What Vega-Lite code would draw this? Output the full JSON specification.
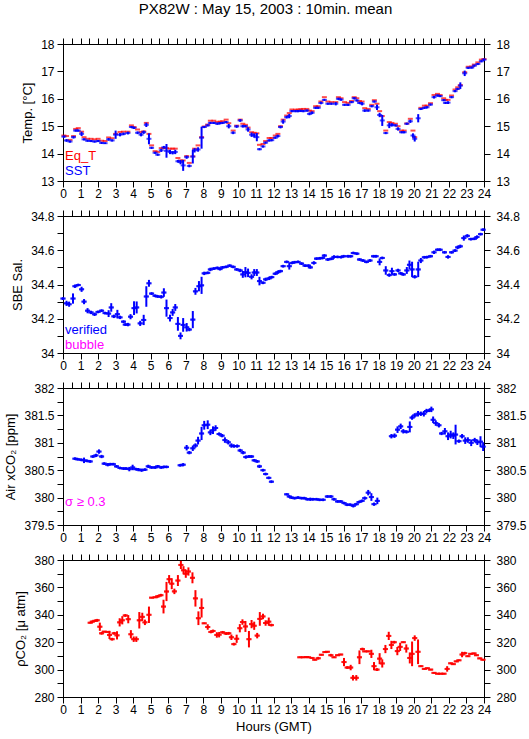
{
"$schema": "https://vega.github.io/schema/vega-lite/v6.json",
"background": "white",
"padding": {"left": 4, "top": 2, "right": 2, "bottom": 2},
"title": {"text": "PX82W : May 15, 2003 : 10min. mean", "fontSize": 15, "font": "Liberation Sans", "fontWeight": "normal", "color": "black", "anchor": "middle", "offset": 20},
"spacing": 9,
"config": {
  "font": "Liberation Sans",
  "view": {"stroke": "black", "strokeWidth": 1},
  "axis": {"domainColor": "black", "tickColor": "black", "labelColor": "black", "titleColor": "black", "labelFont": "Liberation Sans", "labelFontSize": 12, "titleFont": "Liberation Sans", "titleFontSize": 13, "titleFontWeight": "normal", "tickSize": 6, "grid": false, "labelOverlap": false, "labelFlush": false, "labelBound": false, "domainWidth": 1, "tickWidth": 1, "format": "~g"}
},
"datasets": {
"t": [
{"h":0.05,"s":14.62,"e":0.04,"q":14.66},{"h":0.2,"s":14.48,"e":0.05,"q":14.64},{"h":0.4,"s":14.44,"e":0.04,"q":14.5},{"h":0.6,"s":14.6,"e":0.05,"q":14.64},{"h":0.72,"s":14.84,"e":0.04,"q":14.9},{"h":0.87,"s":14.84,"e":0.04,"q":14.93},{"h":1.06,"s":14.72,"e":0.08,"q":14.8},{"h":1.2,"s":14.52,"e":0.04,"q":14.6},{"h":1.4,"s":14.47,"e":0.04,"q":14.54},{"h":1.6,"s":14.46,"e":0.04,"q":14.54},{"h":1.8,"s":14.44,"e":0.04,"q":14.52},{"h":2.0,"s":14.46,"e":0.04,"q":14.54},{"h":2.2,"s":14.39,"e":0.04,"q":14.47},{"h":2.4,"s":14.38,"e":0.03,"q":14.46},{"h":2.6,"s":14.52,"e":0.05,"q":14.59},{"h":2.8,"s":14.48,"e":0.04,"q":14.56},{"h":3.0,"s":14.69,"e":0.15,"q":14.72},{"h":3.25,"s":14.69,"e":0.06,"q":14.79},{"h":3.45,"s":14.72,"e":0.05,"q":14.8},{"h":3.7,"s":14.75,"e":0.05,"q":14.8},{"h":3.9,"s":14.97,"e":0.04,"q":15.03},{"h":4.05,"s":14.94,"e":0.04,"q":14.97},{"h":4.25,"s":14.76,"e":0.05,"q":14.88},{"h":4.45,"s":14.69,"e":0.06,"q":14.79},{"h":4.6,"s":14.78,"e":0.06,"q":14.81},{"h":4.75,"s":15.05,"e":0.08,"q":15.12},{"h":4.9,"s":14.54,"e":0.2,"q":14.72},{"h":5.05,"s":14.21,"e":0.04,"q":14.3},{"h":5.25,"s":14.03,"e":0.04,"q":14.09},{"h":5.4,"s":13.96,"e":0.04,"q":14.06},{"h":5.6,"s":14.12,"e":0.06,"q":14.2},{"h":5.75,"s":14.23,"e":0.05,"q":14.2},{"h":5.9,"s":14.1,"e":0.25,"q":14.2},{"h":6.1,"s":14.06,"e":0.08,"q":14.18},{"h":6.25,"s":14.03,"e":0.06,"q":14.18},{"h":6.4,"s":14.06,"e":0.08,"q":14.18},{"h":6.55,"s":13.72,"e":0.05,"q":13.84},{"h":6.7,"s":13.69,"e":0.08,"q":13.75},{"h":6.85,"s":13.57,"e":0.2,"q":13.75},{"h":7.05,"s":13.87,"e":0.06,"q":13.91},{"h":7.2,"s":13.55,"e":0.05,"q":13.66},{"h":7.4,"s":13.89,"e":0.25,"q":13.9},{"h":7.5,"s":14.12,"e":0.08,"q":14.18},{"h":7.7,"s":14.15,"e":0.08,"q":14.3},{"h":7.9,"s":14.58,"e":0.4,"q":14.6},{"h":8.05,"s":14.97,"e":0.04,"q":14.99},{"h":8.25,"s":15.03,"e":0.04,"q":15.06},{"h":8.4,"s":15.12,"e":0.04,"q":15.2},{"h":8.6,"s":15.12,"e":0.04,"q":15.2},{"h":8.8,"s":15.09,"e":0.04,"q":15.15},{"h":8.95,"s":15.11,"e":0.04,"q":15.17},{"h":9.1,"s":15.12,"e":0.04,"q":15.18},{"h":9.3,"s":15.15,"e":0.04,"q":15.24},{"h":9.45,"s":15.0,"e":0.08,"q":15.11},{"h":9.7,"s":14.76,"e":0.05,"q":14.84},{"h":9.9,"s":14.99,"e":0.05,"q":15.02},{"h":10.1,"s":15.21,"e":0.05,"q":15.24},{"h":10.25,"s":15.0,"e":0.05,"q":15.09},{"h":10.4,"s":15.0,"e":0.04,"q":15.05},{"h":10.55,"s":14.88,"e":0.08,"q":14.95},{"h":10.75,"s":14.69,"e":0.08,"q":14.78},{"h":10.9,"s":14.66,"e":0.08,"q":14.76},{"h":11.05,"s":14.6,"e":0.15,"q":14.74},{"h":11.2,"s":14.16,"e":0.04,"q":14.32},{"h":11.4,"s":14.26,"e":0.04,"q":14.35},{"h":11.55,"s":14.4,"e":0.04,"q":14.46},{"h":11.75,"s":14.48,"e":0.04,"q":14.57},{"h":11.9,"s":14.49,"e":0.04,"q":14.57},{"h":12.1,"s":14.58,"e":0.04,"q":14.66},{"h":12.25,"s":14.64,"e":0.05,"q":14.72},{"h":12.4,"s":14.97,"e":0.05,"q":15.0},{"h":12.55,"s":15.17,"e":0.08,"q":15.24},{"h":12.75,"s":15.33,"e":0.05,"q":15.39},{"h":12.9,"s":15.37,"e":0.08,"q":15.48},{"h":13.05,"s":15.55,"e":0.04,"q":15.61},{"h":13.25,"s":15.55,"e":0.04,"q":15.6},{"h":13.4,"s":15.55,"e":0.04,"q":15.61},{"h":13.55,"s":15.56,"e":0.04,"q":15.62},{"h":13.7,"s":15.55,"e":0.04,"q":15.63},{"h":13.9,"s":15.57,"e":0.04,"q":15.63},{"h":14.05,"s":15.45,"e":0.05,"q":15.57},{"h":14.2,"s":15.49,"e":0.05,"q":15.55},{"h":14.4,"s":15.67,"e":0.04,"q":15.73},{"h":14.55,"s":15.67,"e":0.04,"q":15.73},{"h":14.7,"s":15.85,"e":0.05,"q":15.9},{"h":14.9,"s":15.96,"e":0.04,"q":16.06},{"h":15.1,"s":15.82,"e":0.04,"q":15.9},{"h":15.3,"s":15.82,"e":0.04,"q":15.88},{"h":15.55,"s":15.82,"e":0.06,"q":15.88},{"h":15.7,"s":16.0,"e":0.04,"q":16.06},{"h":15.85,"s":15.97,"e":0.04,"q":16.02},{"h":16.05,"s":15.78,"e":0.04,"q":15.88},{"h":16.25,"s":15.78,"e":0.04,"q":15.85},{"h":16.45,"s":15.88,"e":0.04,"q":15.92},{"h":16.6,"s":16.02,"e":0.04,"q":16.06},{"h":16.75,"s":15.94,"e":0.04,"q":16.02},{"h":16.9,"s":15.85,"e":0.04,"q":15.92},{"h":17.05,"s":15.82,"e":0.06,"q":15.9},{"h":17.2,"s":15.57,"e":0.05,"q":15.66},{"h":17.4,"s":15.57,"e":0.04,"q":15.63},{"h":17.6,"s":15.73,"e":0.04,"q":15.78},{"h":17.75,"s":15.9,"e":0.04,"q":15.95},{"h":17.9,"s":15.69,"e":0.1,"q":15.82},{"h":18.05,"s":15.41,"e":0.08,"q":15.55},{"h":18.2,"s":15.21,"e":0.2,"q":15.37},{"h":18.4,"s":14.75,"e":0.04,"q":14.84},{"h":18.6,"s":15.03,"e":0.1,"q":15.15},{"h":18.75,"s":15.05,"e":0.06,"q":15.12},{"h":18.95,"s":15.03,"e":0.04,"q":15.09},{"h":19.1,"s":14.9,"e":0.06,"q":15.0},{"h":19.3,"s":14.78,"e":0.04,"q":14.84},{"h":19.45,"s":14.78,"e":0.04,"q":14.84},{"h":19.6,"s":15.09,"e":0.04,"q":15.1},{"h":19.8,"s":15.18,"e":0.06,"q":15.27},{"h":19.95,"s":14.66,"e":0.08,"q":14.84},{"h":20.05,"s":14.54,"e":0.1,"q":14.6},{"h":20.25,"s":15.29,"e":0.15,"q":null},{"h":20.4,"s":15.63,"e":0.04,"q":15.67},{"h":20.6,"s":15.67,"e":0.04,"q":15.75},{"h":20.75,"s":15.69,"e":0.04,"q":15.75},{"h":20.95,"s":15.79,"e":0.04,"q":15.84},{"h":21.15,"s":16.06,"e":0.05,"q":16.14},{"h":21.35,"s":16.12,"e":0.04,"q":16.18},{"h":21.5,"s":16.1,"e":0.04,"q":16.14},{"h":21.7,"s":15.95,"e":0.04,"q":16.02},{"h":21.8,"s":15.85,"e":0.04,"q":15.96},{"h":21.95,"s":15.86,"e":0.05,"q":15.96},{"h":22.15,"s":16.06,"e":0.04,"q":16.12},{"h":22.35,"s":16.28,"e":0.04,"q":16.34},{"h":22.5,"s":16.36,"e":0.04,"q":16.42},{"h":22.65,"s":16.48,"e":0.12,"q":16.5},{"h":22.9,"s":16.93,"e":0.1,"q":16.97},{"h":23.1,"s":17.13,"e":0.04,"q":17.17},{"h":23.3,"s":17.14,"e":0.04,"q":17.18},{"h":23.45,"s":17.21,"e":0.04,"q":17.25},{"h":23.65,"s":17.27,"e":0.04,"q":17.33},{"h":23.85,"s":17.37,"e":0.04,"q":17.43},{"h":24.0,"s":17.43,"e":0.04,"q":17.45}
],
"sal": [
{"h":0.0,"v":34.318,"e":0.008},{"h":0.2,"v":34.29,"e":0.015},{"h":0.35,"v":34.285,"e":0.015},{"h":0.57,"v":34.318,"e":0.03},{"h":0.68,"v":34.39,"e":0.01},{"h":0.87,"v":34.397,"e":0.008},{"h":1.06,"v":34.372,"e":0.015},{"h":1.2,"v":34.3,"e":0.015},{"h":1.4,"v":34.247,"e":0.015},{"h":1.6,"v":34.237,"e":0.01},{"h":1.8,"v":34.226,"e":0.01},{"h":2.0,"v":34.24,"e":0.008},{"h":2.2,"v":34.247,"e":0.008},{"h":2.4,"v":34.233,"e":0.008},{"h":2.6,"v":34.23,"e":0.02},{"h":2.75,"v":34.266,"e":0.025},{"h":2.9,"v":34.214,"e":0.01},{"h":3.1,"v":34.227,"e":0.025},{"h":3.25,"v":34.208,"e":0.01},{"h":3.45,"v":34.183,"e":0.008},{"h":3.55,"v":34.166,"e":0.008},{"h":3.7,"v":34.166,"e":0.01},{"h":3.85,"v":34.212,"e":0.015},{"h":4.05,"v":34.262,"e":0.04},{"h":4.2,"v":34.266,"e":0.035},{"h":4.4,"v":34.173,"e":0.015},{"h":4.6,"v":34.193,"e":0.03},{"h":4.75,"v":34.33,"e":0.06},{"h":4.9,"v":34.407,"e":0.02},{"h":5.05,"v":34.347,"e":0.008},{"h":5.25,"v":34.334,"e":0.008},{"h":5.4,"v":34.33,"e":0.008},{"h":5.6,"v":34.328,"e":0.01},{"h":5.75,"v":34.353,"e":0.025},{"h":5.9,"v":34.262,"e":0.05},{"h":6.1,"v":34.204,"e":0.02},{"h":6.25,"v":34.237,"e":0.02},{"h":6.4,"v":34.266,"e":0.02},{"h":6.55,"v":34.17,"e":0.04},{"h":6.7,"v":34.1,"e":0.02},{"h":6.85,"v":34.164,"e":0.04},{"h":7.05,"v":34.15,"e":0.025},{"h":7.2,"v":34.137,"e":0.01},{"h":7.4,"v":34.195,"e":0.05},{"h":7.55,"v":34.36,"e":0.02},{"h":7.75,"v":34.39,"e":0.03},{"h":7.9,"v":34.395,"e":0.05},{"h":8.05,"v":34.465,"e":0.01},{"h":8.25,"v":34.468,"e":0.008},{"h":8.4,"v":34.488,"e":0.01},{"h":8.6,"v":34.493,"e":0.008},{"h":8.8,"v":34.497,"e":0.008},{"h":8.95,"v":34.49,"e":0.008},{"h":9.1,"v":34.5,"e":0.008},{"h":9.3,"v":34.503,"e":0.008},{"h":9.5,"v":34.51,"e":0.008},{"h":9.7,"v":34.503,"e":0.008},{"h":9.9,"v":34.488,"e":0.008},{"h":10.1,"v":34.482,"e":0.01},{"h":10.25,"v":34.459,"e":0.02},{"h":10.4,"v":34.472,"e":0.03},{"h":10.55,"v":34.468,"e":0.025},{"h":10.75,"v":34.445,"e":0.015},{"h":10.9,"v":34.47,"e":0.02},{"h":11.05,"v":34.47,"e":0.02},{"h":11.2,"v":34.42,"e":0.025},{"h":11.4,"v":34.41,"e":0.008},{"h":11.55,"v":34.43,"e":0.01},{"h":11.75,"v":34.436,"e":0.01},{"h":11.9,"v":34.443,"e":0.008},{"h":12.1,"v":34.463,"e":0.008},{"h":12.25,"v":34.472,"e":0.01},{"h":12.4,"v":34.478,"e":0.008},{"h":12.55,"v":34.507,"e":0.008},{"h":12.75,"v":34.532,"e":0.008},{"h":12.9,"v":34.507,"e":0.02},{"h":13.05,"v":34.526,"e":0.008},{"h":13.2,"v":34.53,"e":0.008},{"h":13.4,"v":34.532,"e":0.008},{"h":13.6,"v":34.522,"e":0.008},{"h":13.8,"v":34.51,"e":0.008},{"h":14.0,"v":34.51,"e":0.008},{"h":14.1,"v":34.5,"e":0.008},{"h":14.3,"v":34.526,"e":0.01},{"h":14.45,"v":34.551,"e":0.008},{"h":14.65,"v":34.553,"e":0.008},{"h":14.8,"v":34.555,"e":0.008},{"h":14.9,"v":34.569,"e":0.008},{"h":15.1,"v":34.546,"e":0.008},{"h":15.3,"v":34.55,"e":0.008},{"h":15.45,"v":34.561,"e":0.01},{"h":15.65,"v":34.561,"e":0.008},{"h":15.85,"v":34.56,"e":0.008},{"h":16.0,"v":34.565,"e":0.008},{"h":16.25,"v":34.565,"e":0.008},{"h":16.4,"v":34.565,"e":0.008},{"h":16.55,"v":34.584,"e":0.008},{"h":16.75,"v":34.58,"e":0.008},{"h":16.9,"v":34.546,"e":0.008},{"h":17.1,"v":34.54,"e":0.008},{"h":17.3,"v":34.532,"e":0.008},{"h":17.5,"v":34.54,"e":0.008},{"h":17.7,"v":34.565,"e":0.008},{"h":17.85,"v":34.565,"e":0.008},{"h":18.05,"v":34.532,"e":0.02},{"h":18.2,"v":34.555,"e":0.008},{"h":18.4,"v":34.482,"e":0.025},{"h":18.6,"v":34.455,"e":0.01},{"h":18.75,"v":34.478,"e":0.02},{"h":18.9,"v":34.459,"e":0.008},{"h":19.1,"v":34.482,"e":0.01},{"h":19.25,"v":34.465,"e":0.008},{"h":19.4,"v":34.459,"e":0.008},{"h":19.6,"v":34.482,"e":0.02},{"h":19.75,"v":34.515,"e":0.025},{"h":19.9,"v":34.488,"e":0.045},{"h":20.05,"v":34.445,"e":0.01},{"h":20.25,"v":34.488,"e":0.045},{"h":20.4,"v":34.54,"e":0.015},{"h":20.6,"v":34.559,"e":0.008},{"h":20.75,"v":34.56,"e":0.008},{"h":20.95,"v":34.565,"e":0.008},{"h":21.15,"v":34.588,"e":0.01},{"h":21.35,"v":34.603,"e":0.008},{"h":21.5,"v":34.603,"e":0.008},{"h":21.75,"v":34.588,"e":0.008},{"h":21.95,"v":34.561,"e":0.01},{"h":22.15,"v":34.588,"e":0.008},{"h":22.35,"v":34.598,"e":0.008},{"h":22.5,"v":34.617,"e":0.01},{"h":22.65,"v":34.623,"e":0.01},{"h":22.85,"v":34.671,"e":0.015},{"h":23.05,"v":34.684,"e":0.01},{"h":23.25,"v":34.665,"e":0.008},{"h":23.45,"v":34.667,"e":0.008},{"h":23.6,"v":34.677,"e":0.01},{"h":23.8,"v":34.694,"e":0.008},{"h":23.95,"v":34.72,"e":0.008}
],
"air": [
{"h":0.68,"v":380.71,"e":0.025},{"h":0.83,"v":380.7,"e":0.025},{"h":1.03,"v":380.69,"e":0.025},{"h":1.2,"v":380.68,"e":0.05},{"h":1.37,"v":380.67,"e":0.025},{"h":1.55,"v":380.66,"e":0.025},{"h":1.7,"v":380.75,"e":0.025},{"h":1.88,"v":380.77,"e":0.03},{"h":2.05,"v":380.84,"e":0.04},{"h":2.2,"v":380.75,"e":0.03},{"h":2.35,"v":380.62,"e":0.025},{"h":2.55,"v":380.6,"e":0.03},{"h":2.7,"v":380.61,"e":0.025},{"h":2.87,"v":380.61,"e":0.025},{"h":3.05,"v":380.57,"e":0.025},{"h":3.25,"v":380.54,"e":0.025},{"h":3.45,"v":380.53,"e":0.025},{"h":3.6,"v":380.53,"e":0.025},{"h":3.78,"v":380.52,"e":0.04},{"h":3.97,"v":380.55,"e":0.05},{"h":4.15,"v":380.52,"e":0.025},{"h":4.3,"v":380.51,"e":0.03},{"h":4.48,"v":380.5,"e":0.03},{"h":4.67,"v":380.51,"e":0.025},{"h":4.86,"v":380.57,"e":0.03},{"h":5.05,"v":380.55,"e":0.025},{"h":5.25,"v":380.55,"e":0.025},{"h":5.4,"v":380.57,"e":0.025},{"h":5.6,"v":380.55,"e":0.025},{"h":5.75,"v":380.56,"e":0.025},{"h":5.9,"v":380.56,"e":0.025},{"h":6.68,"v":380.59,"e":0.025},{"h":6.85,"v":380.6,"e":0.03},{"h":7.05,"v":380.91,"e":0.05},{"h":7.2,"v":380.82,"e":0.03},{"h":7.4,"v":380.9,"e":0.05},{"h":7.55,"v":380.95,"e":0.04},{"h":7.7,"v":381.04,"e":0.07},{"h":7.9,"v":381.17,"e":0.12},{"h":8.05,"v":381.32,"e":0.08},{"h":8.25,"v":381.33,"e":0.08},{"h":8.4,"v":381.19,"e":0.05},{"h":8.55,"v":381.23,"e":0.07},{"h":8.7,"v":381.27,"e":0.05},{"h":8.9,"v":381.16,"e":0.03},{"h":9.07,"v":381.13,"e":0.03},{"h":9.23,"v":381.05,"e":0.05},{"h":9.42,"v":381.01,"e":0.04},{"h":9.6,"v":380.95,"e":0.04},{"h":9.75,"v":380.94,"e":0.03},{"h":9.93,"v":380.94,"e":0.03},{"h":10.1,"v":380.86,"e":0.03},{"h":10.27,"v":380.82,"e":0.03},{"h":10.42,"v":380.74,"e":0.03},{"h":10.6,"v":380.75,"e":0.025},{"h":10.75,"v":380.75,"e":0.025},{"h":10.9,"v":380.68,"e":0.025},{"h":11.07,"v":380.66,"e":0.025},{"h":11.2,"v":380.57,"e":0.03},{"h":11.4,"v":380.5,"e":0.025},{"h":11.55,"v":380.43,"e":0.025},{"h":11.73,"v":380.36,"e":0.025},{"h":11.88,"v":380.29,"e":0.025},{"h":12.75,"v":380.06,"e":0.02},{"h":12.9,"v":380.02,"e":0.025},{"h":13.03,"v":380.0,"e":0.025},{"h":13.2,"v":379.99,"e":0.025},{"h":13.4,"v":380.0,"e":0.025},{"h":13.6,"v":379.99,"e":0.025},{"h":13.75,"v":379.99,"e":0.025},{"h":13.93,"v":379.97,"e":0.025},{"h":14.1,"v":379.97,"e":0.03},{"h":14.25,"v":379.97,"e":0.025},{"h":14.45,"v":379.97,"e":0.025},{"h":14.63,"v":379.96,"e":0.025},{"h":14.83,"v":379.96,"e":0.025},{"h":15.07,"v":380.02,"e":0.025},{"h":15.27,"v":380.02,"e":0.025},{"h":15.45,"v":379.97,"e":0.025},{"h":15.65,"v":379.93,"e":0.025},{"h":15.83,"v":379.93,"e":0.025},{"h":16.02,"v":379.9,"e":0.025},{"h":16.2,"v":379.87,"e":0.025},{"h":16.37,"v":379.87,"e":0.025},{"h":16.55,"v":379.85,"e":0.03},{"h":16.72,"v":379.88,"e":0.025},{"h":16.88,"v":379.92,"e":0.025},{"h":17.05,"v":379.94,"e":0.025},{"h":17.2,"v":379.99,"e":0.03},{"h":17.4,"v":380.09,"e":0.05},{"h":17.58,"v":380.01,"e":0.07},{"h":17.73,"v":379.88,"e":0.03},{"h":17.92,"v":379.94,"e":0.06},{"h":18.72,"v":381.12,"e":0.04},{"h":18.9,"v":381.13,"e":0.04},{"h":19.07,"v":381.24,"e":0.06},{"h":19.25,"v":381.3,"e":0.05},{"h":19.4,"v":381.21,"e":0.04},{"h":19.58,"v":381.2,"e":0.03},{"h":19.77,"v":381.29,"e":0.1},{"h":19.9,"v":381.46,"e":0.04},{"h":20.05,"v":381.5,"e":0.04},{"h":20.24,"v":381.53,"e":0.05},{"h":20.4,"v":381.53,"e":0.04},{"h":20.57,"v":381.53,"e":0.05},{"h":20.72,"v":381.58,"e":0.04},{"h":20.88,"v":381.59,"e":0.03},{"h":21.0,"v":381.61,"e":0.05},{"h":21.1,"v":381.42,"e":0.06},{"h":21.25,"v":381.36,"e":0.05},{"h":21.43,"v":381.32,"e":0.04},{"h":21.58,"v":381.17,"e":0.03},{"h":21.77,"v":381.21,"e":0.06},{"h":21.95,"v":381.12,"e":0.07},{"h":22.1,"v":381.15,"e":0.07},{"h":22.25,"v":381.13,"e":0.06},{"h":22.38,"v":381.15,"e":0.18},{"h":22.57,"v":381.03,"e":0.03},{"h":22.75,"v":381.12,"e":0.04},{"h":22.93,"v":381.04,"e":0.06},{"h":23.08,"v":381.05,"e":0.05},{"h":23.27,"v":381.0,"e":0.06},{"h":23.47,"v":381.05,"e":0.04},{"h":23.62,"v":381.01,"e":0.05},{"h":23.8,"v":381.02,"e":0.1},{"h":23.95,"v":380.93,"e":0.08}
],
"pco2": [
{"h":1.55,"v":334.2,"e":0.5},{"h":1.67,"v":335,"e":0.8},{"h":1.82,"v":335.6,"e":0.8},{"h":1.95,"v":336,"e":1},{"h":2.1,"v":331.3,"e":3},{"h":2.2,"v":326.5,"e":1},{"h":2.35,"v":327.7,"e":0.5},{"h":2.55,"v":327.5,"e":0.5},{"h":2.65,"v":325.3,"e":3},{"h":2.8,"v":322.2,"e":1},{"h":2.92,"v":326.5,"e":1},{"h":3.08,"v":325,"e":3},{"h":3.23,"v":334.5,"e":3},{"h":3.38,"v":336,"e":3},{"h":3.55,"v":339.5,"e":1},{"h":3.72,"v":336.8,"e":3},{"h":3.87,"v":325.8,"e":3},{"h":4.03,"v":322.2,"e":2},{"h":4.18,"v":322.2,"e":2},{"h":4.35,"v":336,"e":6},{"h":4.52,"v":338.5,"e":3},{"h":4.67,"v":334.5,"e":2},{"h":4.9,"v":340,"e":6},{"h":5.05,"v":352.5,"e":0.5},{"h":5.25,"v":352.8,"e":0.5},{"h":5.4,"v":353.5,"e":1},{"h":5.58,"v":354.3,"e":1},{"h":5.73,"v":346,"e":5},{"h":5.9,"v":357,"e":7},{"h":6.05,"v":366,"e":3},{"h":6.2,"v":362.7,"e":4},{"h":6.35,"v":357.1,"e":2},{"h":6.55,"v":365,"e":4},{"h":6.72,"v":376.4,"e":3},{"h":6.87,"v":372.5,"e":3},{"h":7.0,"v":370,"e":3},{"h":7.15,"v":371.6,"e":3},{"h":7.38,"v":367,"e":4},{"h":7.55,"v":352,"e":6},{"h":7.72,"v":337.5,"e":5},{"h":7.9,"v":345,"e":7},{"h":8.05,"v":333.8,"e":0.5},{"h":8.25,"v":331.1,"e":2},{"h":8.43,"v":327.5,"e":1},{"h":8.55,"v":328.2,"e":1},{"h":8.77,"v":325.3,"e":2},{"h":8.9,"v":325.5,"e":2},{"h":9.1,"v":327.2,"e":1},{"h":9.3,"v":326.3,"e":1},{"h":9.45,"v":326.5,"e":1},{"h":9.6,"v":323.6,"e":2},{"h":9.74,"v":318.6,"e":1},{"h":9.9,"v":322.5,"e":3},{"h":10.08,"v":330.2,"e":3},{"h":10.23,"v":334.7,"e":2},{"h":10.4,"v":331.5,"e":4},{"h":10.6,"v":322.2,"e":6},{"h":10.75,"v":333.2,"e":3},{"h":10.9,"v":332,"e":3},{"h":11.07,"v":324.8,"e":2},{"h":11.22,"v":337,"e":5},{"h":11.4,"v":338.8,"e":2},{"h":11.55,"v":334,"e":2},{"h":11.73,"v":335,"e":3},{"h":11.88,"v":332.5,"e":1},{"h":13.5,"v":309,"e":0.5},{"h":13.7,"v":309,"e":0.5},{"h":13.88,"v":309.2,"e":0.5},{"h":14.0,"v":309,"e":0.5},{"h":14.2,"v":308.5,"e":0.5},{"h":14.35,"v":307.2,"e":0.5},{"h":14.55,"v":308.3,"e":1},{"h":14.73,"v":310.8,"e":0.5},{"h":14.93,"v":312.8,"e":0.5},{"h":15.07,"v":313,"e":0.5},{"h":15.27,"v":310.5,"e":1},{"h":15.45,"v":309,"e":0.5},{"h":15.65,"v":310.5,"e":0.5},{"h":15.83,"v":311,"e":0.5},{"h":16.02,"v":305.5,"e":3},{"h":16.2,"v":301.5,"e":1},{"h":16.4,"v":301.5,"e":2},{"h":16.53,"v":294,"e":2},{"h":16.72,"v":294,"e":2},{"h":16.9,"v":309,"e":5},{"h":17.07,"v":315,"e":1},{"h":17.2,"v":313.3,"e":0.5},{"h":17.4,"v":313.3,"e":0.5},{"h":17.58,"v":311.5,"e":3},{"h":17.73,"v":302.5,"e":3},{"h":17.9,"v":300,"e":1},{"h":18.05,"v":308,"e":4},{"h":18.2,"v":304.5,"e":3},{"h":18.38,"v":315,"e":3},{"h":18.57,"v":324.6,"e":3},{"h":18.72,"v":318,"e":3},{"h":18.88,"v":320,"e":1},{"h":19.06,"v":313.5,"e":3},{"h":19.22,"v":316.6,"e":3},{"h":19.4,"v":320,"e":0.5},{"h":19.57,"v":315.4,"e":3},{"h":19.77,"v":308.5,"e":4},{"h":19.9,"v":311.5,"e":9},{"h":20.05,"v":323,"e":2},{"h":20.24,"v":313,"e":9},{"h":20.4,"v":302.5,"e":0.5},{"h":20.6,"v":300.5,"e":0.5},{"h":20.77,"v":301,"e":0.5},{"h":20.96,"v":300,"e":0.5},{"h":21.15,"v":297.6,"e":0.5},{"h":21.35,"v":297,"e":0.5},{"h":21.53,"v":297,"e":0.5},{"h":21.72,"v":297,"e":0.5},{"h":21.9,"v":300.5,"e":2},{"h":22.1,"v":304.6,"e":0.5},{"h":22.25,"v":304,"e":0.5},{"h":22.42,"v":306,"e":0.5},{"h":22.57,"v":306.8,"e":0.5},{"h":22.75,"v":311,"e":2},{"h":22.9,"v":312,"e":1},{"h":23.08,"v":309.8,"e":0.5},{"h":23.24,"v":311.5,"e":0.5},{"h":23.43,"v":311.8,"e":0.5},{"h":23.57,"v":310.5,"e":0.5},{"h":23.76,"v":308.2,"e":0.5},{"h":23.94,"v":307.2,"e":0.5}
]
},
"vconcat": [
{
 "width": 421, "height": 137,
 "data": {"name": "t"},
 "resolve": {"axis": {"x": "independent", "y": "independent"}},
 "layer": [
  {"mark": {"type": "tick", "orient": "horizontal", "color": "#ff0000", "size": 5, "thickness": 2},
   "encoding": {
    "x": {"field": "h", "type": "quantitative", "scale": {"domain": [0, 24], "nice": false}, "axis": {"orient": "bottom", "title": null, "format": "d", "values": [0,0.5,1,1.5,2,2.5,3,3.5,4,4.5,5,5.5,6,6.5,7,7.5,8,8.5,9,9.5,10,10.5,11,11.5,12,12.5,13,13.5,14,14.5,15,15.5,16,16.5,17,17.5,18,18.5,19,19.5,20,20.5,21,21.5,22,22.5,23,23.5,24], "labelExpr": "datum.value % 1 == 0 ? datum.label : ''", "labelPadding": 1}},
    "y": {"field": "q", "type": "quantitative", "scale": {"domain": [13, 18], "nice": false, "zero": false}, "axis": {"orient": "left", "title": "Temp. [°C]", "format": "d", "values": [13,13.5,14,14.5,15,15.5,16,16.5,17,17.5,18], "labelExpr": "datum.value % 1 == 0 ? datum.label : ''", "labelPadding": 3, "titlePadding": 6}}
   }},
  {"mark": {"type": "errorbar", "color": "#0000ff", "thickness": 2},
   "encoding": {
    "x": {"field": "h", "type": "quantitative", "axis": null},
    "y": {"field": "s", "type": "quantitative", "axis": null},
    "yError": {"field": "e"}
   }},
  {"mark": {"type": "tick", "orient": "horizontal", "color": "#0000ff", "size": 5, "thickness": 2},
   "encoding": {
    "x": {"field": "h", "type": "quantitative", "axis": {"orient": "top", "title": null, "labels": false, "values": [0,0.5,1,1.5,2,2.5,3,3.5,4,4.5,5,5.5,6,6.5,7,7.5,8,8.5,9,9.5,10,10.5,11,11.5,12,12.5,13,13.5,14,14.5,15,15.5,16,16.5,17,17.5,18,18.5,19,19.5,20,20.5,21,21.5,22,22.5,23,23.5,24]}},
    "y": {"field": "s", "type": "quantitative", "axis": {"orient": "right", "title": null, "format": "d", "values": [13,13.5,14,14.5,15,15.5,16,16.5,17,17.5,18], "labelExpr": "datum.value % 1 == 0 ? datum.label : ''", "labelPadding": 6}}
   }},
  {"data": {"values": [{"label": "Eq_T"}]},
   "mark": {"type": "text", "align": "left", "baseline": "middle", "fontSize": 13, "color": "#ff0000", "font": "Liberation Sans"},
   "encoding": {"x": {"datum": 0.12, "type": "quantitative", "axis": null}, "y": {"datum": 13.9, "type": "quantitative", "axis": null}, "text": {"field": "label"}}},
  {"data": {"values": [{"label": "SST"}]},
   "mark": {"type": "text", "align": "left", "baseline": "middle", "fontSize": 13, "color": "#0000ff", "font": "Liberation Sans"},
   "encoding": {"x": {"datum": 0.12, "type": "quantitative", "axis": null}, "y": {"datum": 13.37, "type": "quantitative", "axis": null}, "text": {"field": "label"}}}
 ]
},
{
 "width": 421, "height": 137,
 "data": {"name": "sal"},
 "resolve": {"axis": {"x": "independent", "y": "independent"}},
 "layer": [
  {"mark": {"type": "errorbar", "color": "#0000ff", "thickness": 2},
   "encoding": {
    "x": {"field": "h", "type": "quantitative", "scale": {"domain": [0, 24], "nice": false}, "axis": null},
    "y": {"field": "v", "type": "quantitative", "scale": {"domain": [34, 34.8], "nice": false, "zero": false}, "axis": null},
    "yError": {"field": "e"}
   }},
  {"mark": {"type": "tick", "orient": "horizontal", "color": "#0000ff", "size": 5, "thickness": 2},
   "encoding": {
    "x": {"field": "h", "type": "quantitative", "axis": {"orient": "bottom", "title": null, "format": "d", "values": [0,0.5,1,1.5,2,2.5,3,3.5,4,4.5,5,5.5,6,6.5,7,7.5,8,8.5,9,9.5,10,10.5,11,11.5,12,12.5,13,13.5,14,14.5,15,15.5,16,16.5,17,17.5,18,18.5,19,19.5,20,20.5,21,21.5,22,22.5,23,23.5,24], "labelExpr": "datum.value % 1 == 0 ? datum.label : ''", "labelPadding": 1}},
    "y": {"field": "v", "type": "quantitative", "axis": {"orient": "left", "title": "SBE Sal.", "values": [34,34.1,34.2,34.3,34.4,34.5,34.6,34.7,34.8], "labelExpr": "round(datum.value*10) % 2 == 0 ? datum.label : ''", "labelPadding": 3, "titlePadding": 6}}
   }},
  {"mark": {"type": "tick", "orient": "horizontal", "color": "#0000ff", "size": 5, "thickness": 2},
   "encoding": {
    "x": {"field": "h", "type": "quantitative", "axis": {"orient": "top", "title": null, "labels": false, "values": [0,0.5,1,1.5,2,2.5,3,3.5,4,4.5,5,5.5,6,6.5,7,7.5,8,8.5,9,9.5,10,10.5,11,11.5,12,12.5,13,13.5,14,14.5,15,15.5,16,16.5,17,17.5,18,18.5,19,19.5,20,20.5,21,21.5,22,22.5,23,23.5,24]}},
    "y": {"field": "v", "type": "quantitative", "axis": {"orient": "right", "title": null, "values": [34,34.1,34.2,34.3,34.4,34.5,34.6,34.7,34.8], "labelExpr": "round(datum.value*10) % 2 == 0 ? datum.label : ''", "labelPadding": 6}}
   }},
  {"data": {"values": [{"label": "verified"}]},
   "mark": {"type": "text", "align": "left", "baseline": "middle", "fontSize": 13, "color": "#0000ff", "font": "Liberation Sans"},
   "encoding": {"x": {"datum": 0.12, "type": "quantitative", "axis": null}, "y": {"datum": 34.133, "type": "quantitative", "axis": null}, "text": {"field": "label"}}},
  {"data": {"values": [{"label": "bubble"}]},
   "mark": {"type": "text", "align": "left", "baseline": "middle", "fontSize": 13, "color": "#ff00ff", "font": "Liberation Sans"},
   "encoding": {"x": {"datum": 0.12, "type": "quantitative", "axis": null}, "y": {"datum": 34.046, "type": "quantitative", "axis": null}, "text": {"field": "label"}}}
 ]
},
{
 "width": 421, "height": 137,
 "data": {"name": "air"},
 "resolve": {"axis": {"x": "independent", "y": "independent"}},
 "layer": [
  {"mark": {"type": "errorbar", "color": "#0000ff", "thickness": 2},
   "encoding": {
    "x": {"field": "h", "type": "quantitative", "scale": {"domain": [0, 24], "nice": false}, "axis": null},
    "y": {"field": "v", "type": "quantitative", "scale": {"domain": [379.5, 382], "nice": false, "zero": false}, "axis": null},
    "yError": {"field": "e"}
   }},
  {"mark": {"type": "tick", "orient": "horizontal", "color": "#0000ff", "size": 5, "thickness": 2},
   "encoding": {
    "x": {"field": "h", "type": "quantitative", "axis": {"orient": "bottom", "title": null, "format": "d", "values": [0,0.5,1,1.5,2,2.5,3,3.5,4,4.5,5,5.5,6,6.5,7,7.5,8,8.5,9,9.5,10,10.5,11,11.5,12,12.5,13,13.5,14,14.5,15,15.5,16,16.5,17,17.5,18,18.5,19,19.5,20,20.5,21,21.5,22,22.5,23,23.5,24], "labelExpr": "datum.value % 1 == 0 ? datum.label : ''", "labelPadding": 1}},
    "y": {"field": "v", "type": "quantitative", "axis": {"orient": "left", "title": "Air xCO₂ [ppm]", "values": [379.5,379.75,380,380.25,380.5,380.75,381,381.25,381.5,381.75,382], "labelExpr": "round(datum.value*4) % 2 == 0 ? datum.label : ''", "labelPadding": 3, "titlePadding": 6}}
   }},
  {"mark": {"type": "tick", "orient": "horizontal", "color": "#0000ff", "size": 5, "thickness": 2},
   "encoding": {
    "x": {"field": "h", "type": "quantitative", "axis": {"orient": "top", "title": null, "labels": false, "values": [0,0.5,1,1.5,2,2.5,3,3.5,4,4.5,5,5.5,6,6.5,7,7.5,8,8.5,9,9.5,10,10.5,11,11.5,12,12.5,13,13.5,14,14.5,15,15.5,16,16.5,17,17.5,18,18.5,19,19.5,20,20.5,21,21.5,22,22.5,23,23.5,24]}},
    "y": {"field": "v", "type": "quantitative", "axis": {"orient": "right", "title": null, "values": [379.5,379.75,380,380.25,380.5,380.75,381,381.25,381.5,381.75,382], "labelExpr": "round(datum.value*4) % 2 == 0 ? datum.label : ''", "labelPadding": 6}}
   }},
  {"data": {"values": [{"label": "σ ≥ 0.3"}]},
   "mark": {"type": "text", "align": "left", "baseline": "middle", "fontSize": 13, "color": "#ff00ff", "font": "Liberation Sans"},
   "encoding": {"x": {"datum": 0.12, "type": "quantitative", "axis": null}, "y": {"datum": 379.92, "type": "quantitative", "axis": null}, "text": {"field": "label"}}}
 ]
},
{
 "width": 421, "height": 137,
 "data": {"name": "pco2"},
 "resolve": {"axis": {"x": "independent", "y": "independent"}},
 "layer": [
  {"mark": {"type": "errorbar", "color": "#ff0000", "thickness": 2},
   "encoding": {
    "x": {"field": "h", "type": "quantitative", "scale": {"domain": [0, 24], "nice": false}, "axis": null},
    "y": {"field": "v", "type": "quantitative", "scale": {"domain": [280, 380], "nice": false, "zero": false}, "axis": null},
    "yError": {"field": "e"}
   }},
  {"mark": {"type": "tick", "orient": "horizontal", "color": "#ff0000", "size": 5, "thickness": 2},
   "encoding": {
    "x": {"field": "h", "type": "quantitative", "axis": {"orient": "bottom", "title": "Hours (GMT)", "titlePadding": 5, "format": "d", "values": [0,0.5,1,1.5,2,2.5,3,3.5,4,4.5,5,5.5,6,6.5,7,7.5,8,8.5,9,9.5,10,10.5,11,11.5,12,12.5,13,13.5,14,14.5,15,15.5,16,16.5,17,17.5,18,18.5,19,19.5,20,20.5,21,21.5,22,22.5,23,23.5,24], "labelExpr": "datum.value % 1 == 0 ? datum.label : ''", "labelPadding": 1}},
    "y": {"field": "v", "type": "quantitative", "axis": {"orient": "left", "title": "ρCO₂ [μ atm]", "format": "d", "values": [280,290,300,310,320,330,340,350,360,370,380], "labelExpr": "datum.value % 20 == 0 ? datum.label : ''", "labelPadding": 3, "titlePadding": 6}}
   }},
  {"mark": {"type": "tick", "orient": "horizontal", "color": "#ff0000", "size": 5, "thickness": 2},
   "encoding": {
    "x": {"field": "h", "type": "quantitative", "axis": {"orient": "top", "title": null, "labels": false, "values": [0,0.5,1,1.5,2,2.5,3,3.5,4,4.5,5,5.5,6,6.5,7,7.5,8,8.5,9,9.5,10,10.5,11,11.5,12,12.5,13,13.5,14,14.5,15,15.5,16,16.5,17,17.5,18,18.5,19,19.5,20,20.5,21,21.5,22,22.5,23,23.5,24]}},
    "y": {"field": "v", "type": "quantitative", "axis": {"orient": "right", "title": null, "format": "d", "values": [280,290,300,310,320,330,340,350,360,370,380], "labelExpr": "datum.value % 20 == 0 ? datum.label : ''", "labelPadding": 6}}
   }}
 ]
}
]
}
